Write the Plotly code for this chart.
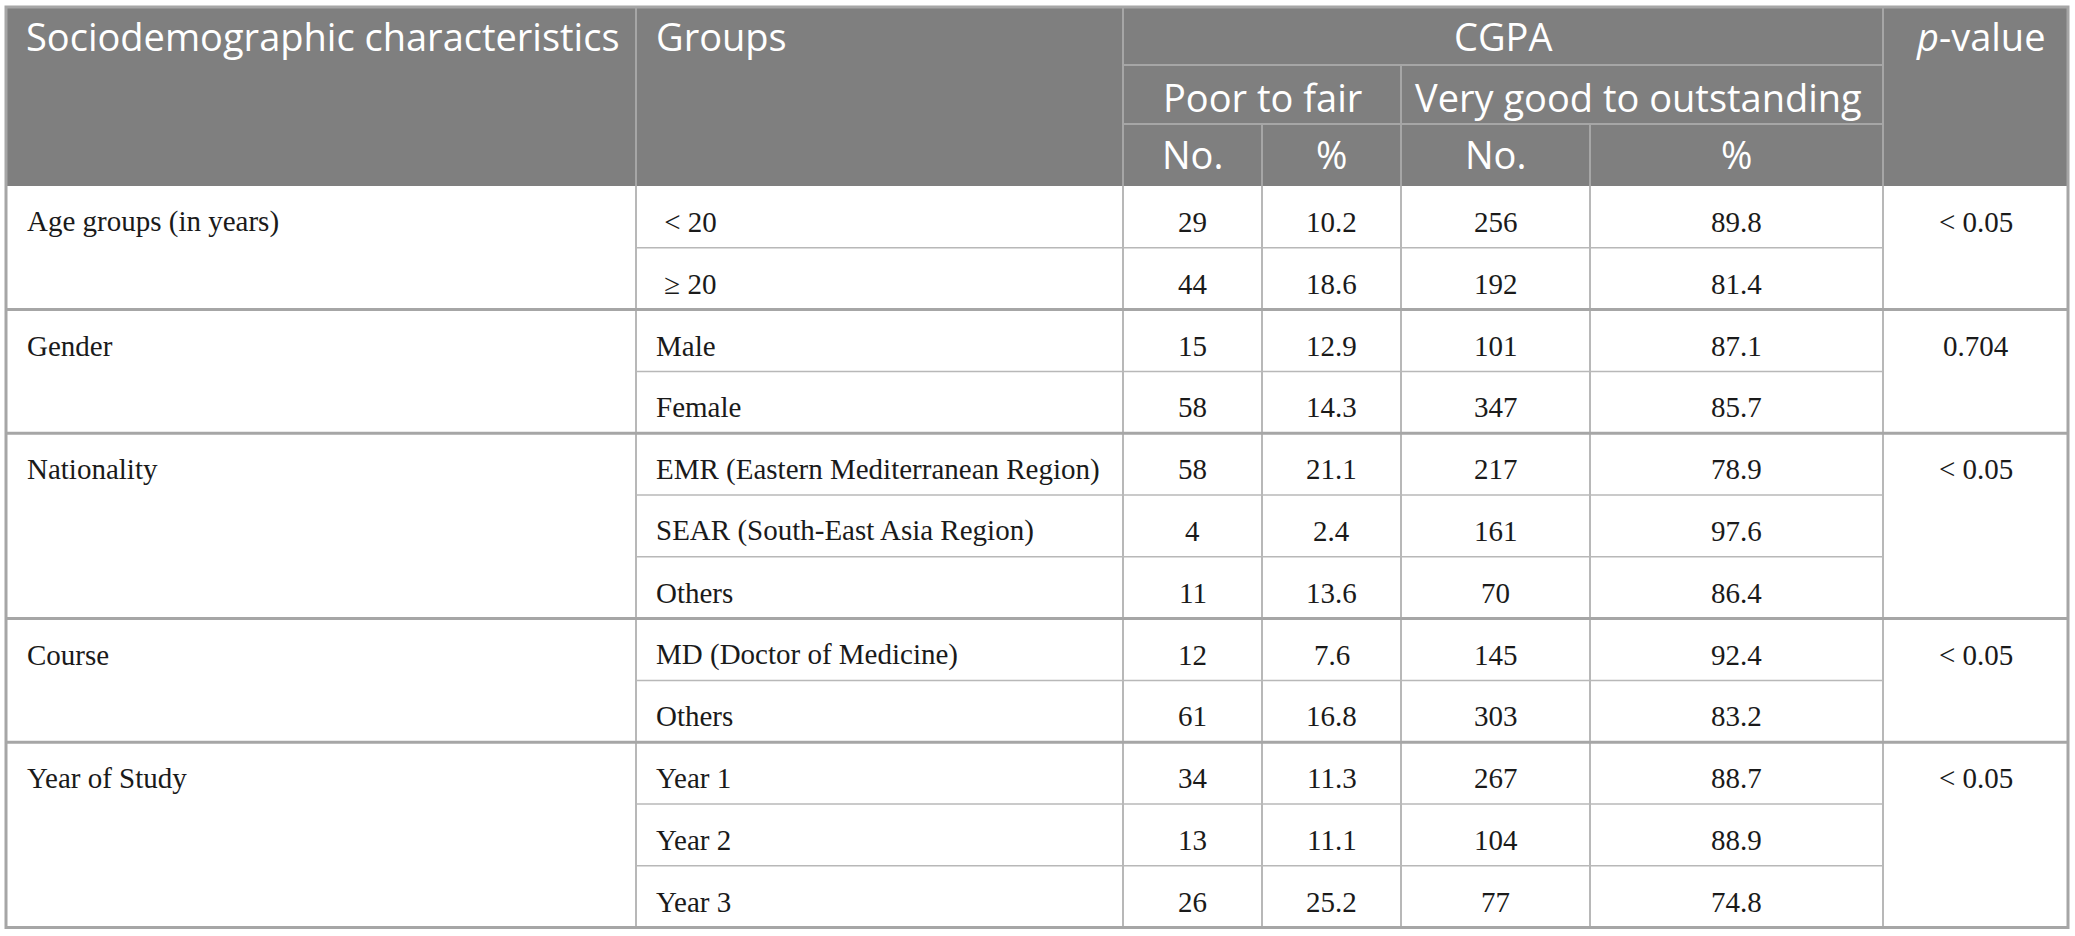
import plotly.graph_objects as go

# Table content
characteristics = ["Age groups (in years)", "Gender", "Nationality", "Course", "Year of Study"]
group_sizes = [2, 2, 3, 2, 3]
group_labels = ["\u2009\u200a< 20", "\u2009\u200a\u2265 20", "Male", "Female",
                "EMR (Eastern Mediterranean Region)", "SEAR (South-East Asia Region)", "Others",
                "MD (Doctor of Medicine)", "Others",
                "Year 1", "Year 2", "Year 3"]
poor_no = [29, 44, 15, 58, 58, 4, 11, 12, 61, 34, 13, 26]
poor_pct = [10.2, 18.6, 12.9, 14.3, 21.1, 2.4, 13.6, 7.6, 16.8, 11.3, 11.1, 25.2]
good_no = [256, 192, 101, 347, 217, 161, 70, 145, 303, 267, 104, 77]
good_pct = [89.8, 81.4, 87.1, 85.7, 78.9, 97.6, 86.4, 92.4, 83.2, 88.7, 88.9, 74.8]
p_values = ["< 0.05", "0.704", "< 0.05", "< 0.05", "< 0.05"]

# Layout geometry (pixels)
W, H = 2075, 936
col_x = [6, 636, 1123, 1262, 1401, 1590, 1883, 2068]
top, h1, h2, hb = 7, 65, 124, 186
row_h = 61.8

HEAD_BG = "#7f7f7f"
HEAD_LINE = "#a6a6a6"
BODY_LINE = "#b8b8b8"
SEP_LINE = "#a6a6a6"
HEAD_FONT = dict(family="Open Sans", size=38, color="white")
BODY_FONT = dict(family="Liberation Serif", size=29, color="#1a1a1a")

fig = go.Figure()
shapes = []
annotations = []


def line(x0, y0, x1, y1, color, width=1.5):
    shapes.append(dict(type="line", xref="x", yref="y", x0=x0, y0=y0, x1=x1, y1=y1,
                       line=dict(color=color, width=width)))


def text(x, y, s, font, anchor="center"):
    annotations.append(dict(x=x, y=y, xref="x", yref="y", text=s, showarrow=False,
                            xanchor=anchor, yanchor="middle", font=font))


# header background
shapes.append(dict(type="rect", xref="x", yref="y", x0=col_x[0], x1=col_x[-1], y0=top, y1=hb,
                   fillcolor=HEAD_BG, line=dict(width=0), layer="below"))

# header lines
line(col_x[2], h1, col_x[6], h1, HEAD_LINE, 2)
line(col_x[2], h2, col_x[6], h2, HEAD_LINE, 2)
for cx in (col_x[1], col_x[2], col_x[6]):
    line(cx, top, cx, hb, HEAD_LINE, 2)
line(col_x[4], h1, col_x[4], hb, HEAD_LINE, 2)
for cx in (col_x[3], col_x[5]):
    line(cx, h2, cx, hb, HEAD_LINE, 2)

# header text
y_h1 = (top + h1) / 2
text(col_x[0] + 18, y_h1, "Sociodemographic characteristics", HEAD_FONT, "left")
text(col_x[1] + 18, y_h1, "Groups", HEAD_FONT, "left")
text((col_x[2] + col_x[6]) / 2, y_h1, "CGPA", HEAD_FONT)
text((col_x[6] + col_x[7]) / 2 + 5, y_h1, "<i>p</i>-value", HEAD_FONT)
text((col_x[2] + col_x[4]) / 2, (h1 + h2) / 2 + 2, "Poor to fair", HEAD_FONT)
text((col_x[4] + col_x[6]) / 2 - 4, (h1 + h2) / 2 + 2, "Very good to outstanding", HEAD_FONT)
for i, lab in enumerate(["No.", "%", "No.", "%"]):
    text((col_x[2 + i] + col_x[3 + i]) / 2, (h2 + hb) / 2 - 1, lab, HEAD_FONT)

# body
n_rows = len(group_labels)
bottom = hb + n_rows * row_h
for cx in col_x[1:-1]:
    line(cx, hb, cx, bottom, BODY_LINE, 2)

r = 0
for gi, size in enumerate(group_sizes):
    y_first = hb + r * row_h + row_h / 2 + 5
    text(col_x[0] + 19, y_first, characteristics[gi], BODY_FONT, "left")
    text((col_x[6] + col_x[7]) / 2, y_first, p_values[gi], BODY_FONT)
    for k in range(size):
        yc = hb + (r + k) * row_h + row_h / 2 + 5
        text(col_x[1] + 18, yc, group_labels[r + k], BODY_FONT, "left")
        vals = [poor_no[r + k], poor_pct[r + k], good_no[r + k], good_pct[r + k]]
        for j, v in enumerate(vals):
            text((col_x[2 + j] + col_x[3 + j]) / 2, yc, str(v), BODY_FONT)
        if k < size - 1:
            yl = hb + (r + k + 1) * row_h
            line(col_x[1], yl, col_x[6], yl, BODY_LINE, 1.5)
    r += size
    if gi < len(group_sizes) - 1:
        line(col_x[0], hb + r * row_h, col_x[-1], hb + r * row_h, SEP_LINE, 3)

# outer border
shapes.append(dict(type="rect", xref="x", yref="y", x0=col_x[0], x1=col_x[-1], y0=top, y1=bottom,
                   line=dict(color=SEP_LINE, width=3)))

fig.update_layout(
    width=W, height=H,
    margin=dict(l=0, r=0, t=0, b=0),
    paper_bgcolor="white", plot_bgcolor="white",
    xaxis=dict(range=[0, W], visible=False, fixedrange=True),
    yaxis=dict(range=[H, 0], visible=False, fixedrange=True),
    shapes=shapes, annotations=annotations,
    showlegend=False,
)

# drop the default page margin so the figure sits at the window's top-left corner
fig.write_html("out.html", config={"displayModeBar": False},
               post_script="document.body.style.margin='0';")
